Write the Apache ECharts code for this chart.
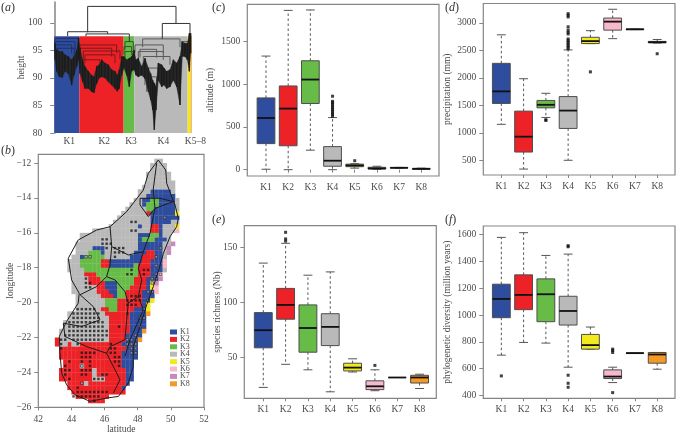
<!DOCTYPE html>
<html><head><meta charset="utf-8">
<style>html,body{margin:0;padding:0;background:#fff}#c{width:676px;height:434px}</style>
<script src="https://cdn.jsdelivr.net/npm/echarts@6/dist/echarts.min.js"></script>
</head><body><div id="c"></div>
<script>
const clusters = ['K1','K2','K3','K4','K5','K6','K7','K8'];
const clusterColors = ['#2f4d9e','#ec2227','#67bb47','#bab9ba','#f3ea1d','#f6b8cb','#c78abb','#f39a26'];
// [whisker low, q1, median, q3, whisker high]
const altitudeStats = [[5,305,605,840,1330],[0,280,715,980,1865],[228,775,1055,1275,1870],[0,40,105,270,610],[18,35,50,65,70],[3,8,15,28,40],[18,20,22,25,27],[2,5,10,15,18]];
const altitudeOutliers = [[4,625],[4,645],[4,665],[4,685],[4,705],[4,725],[4,745],[4,765],[4,785],[4,800],[4,860],[5,105]];
const precipStats = [[1155,1535,1755,2265,2785],[340,650,930,1395,1985],[1280,1455,1510,1590,1720],[500,1080,1405,1660,2510],[2625,2625,2670,2740,2860],[2715,2870,3025,3090,3250],[2880,2880,2885,2890,2890],[2635,2640,2650,2665,2700]];
const precipOutliers = [[3,1240],[3,1225],[4,2530],[4,2560],[4,2590],[4,2620],[4,2650],[4,2680],[4,2710],[4,2800],[4,2830],[4,2870],[4,2930],[4,3110],[4,3140],[4,3170],[5,2110],[8,2440]];
const richnessStats = [[23,59,75,91,136],[44,85,98,113,154],[39,55,77,98,125],[19,61,78,90,128],[37,38,41,45,49],[20,21,24,29,39],[32,32,32,32,32],[22,27,32,34,35]];
const richnessOutliers = [[2,156],[2,158],[2,164],[6,43]];
const diversityStats = [[700,980,1120,1230,1580],[795,1040,1150,1300,1615],[790,950,1155,1270,1445],[610,925,1030,1140,1455],[745,745,775,855,910],[495,525,540,590,610],[715,715,715,715,715],[595,640,705,720,720]];
const diversityOutliers = [[1,545],[4,1510],[4,1518],[4,550],[4,490],[4,460],[6,420],[6,720],[6,735],[6,745]];
// dendrogram: leaf position / height
const dendroBands = [[0,75,0],[75,208,1],[208,240,2],[240,400,3],[400,409,4],[409,412,7]];
const dendroLabels = [[45,'K1'],[150,'K2'],[230,'K3'],[327,'K4'],[423,'K5–8']];
const dendroMerges = [[100,98.3,365,99.9,103],[40,97.6,160,98,98.4],[95,97.6,225,96.6,98],[324,97.1,407,98.1,99.9]];
const dendroBranches = [[2,72,97.2,0],[2,62,96.6,0],[2,52,96,0],[10,60,95.4,0],[77,187,96,1],[77,172,95.4,1],[87,197,94.9,1],[92,182,94.2,1],[82,137,93.3,1],[212,237,96.6,2],[209,232,95.7,2],[212,237,94.8,2],[265,377,97.1,3],[242,327,96,3],[257,307,95.2,3],[252,327,94.8,3],[267,347,93.9,3],[277,317,91.8,3],[272,307,90.2,3],[277,302,89,3],[382,407,96.6,3]];
const dendroLeaves = [[2,96.3,93.3],[7,95.1,91.2],[15,94.8,90.2],[24,94.8,90.1],[32,94.2,91.2],[42,93.9,90.8],[52,93.3,88.7],[59,93.9,90.5],[67,95.1,92.1],[73,97.3,93.3],[77,95.4,90.8],[85,93.3,89.3],[92,92.1,88.1],[102,91.2,88.1],[112,90.5,87.5],[119,90.2,87.3],[127,92.1,89],[135,92.4,90],[142,93.3,90.2],[152,92.7,90],[162,92.4,89.3],[172,91.5,88.7],[182,91.2,88.1],[189,90.5,87.6],[195,91.5,88.1],[202,93.9,90.5],[209,93.9,91.8],[217,93.3,90.5],[225,93.6,88.4],[232,93.9,91.2],[239,95.1,91.5],[245,93.3,90.5],[252,93.6,90.2],[262,92.1,90.5],[272,93.6,89.9],[282,91.8,87.5],[289,90.8,86],[295,89.6,84.2],[300,89,80.6],[305,88.4,84.2],[312,92.7,89.6],[322,92.4,88.4],[329,91.8,88.7],[337,91.2,88.1],[347,91.5,88.4],[357,93.3,89.6],[367,92.7,88.4],[377,93.9,85.1],[384,96.6,93.9],[392,96.3,93.9],[399,96.3,93.3],[405,98.1,91.2],[409,98.1,94.5]];
// map raster: [row, first col, last col, cluster]; 0.25 degree cells from (42E, 11.5S)
const mapRuns = [[1,28,29,4],[2,27,30,4],[3,27,30,4],[4,26,31,4],[5,26,31,4],[6,26,32,4],[7,25,32,4],
[8,24,26,4],[8,27,31,1],[8,32,32,4],[9,24,25,4],[9,26,32,1],[10,23,24,4],[10,25,26,1],[10,27,28,3],[10,29,32,1],[10,33,33,4],
[11,22,24,4],[11,25,25,1],[11,26,28,3],[11,29,32,1],[11,33,33,4],[12,21,25,4],[12,26,27,3],[12,28,32,1],[12,33,33,4],
[13,20,25,4],[13,26,26,2],[13,27,32,1],[13,33,33,5],[14,19,26,4],[14,27,33,1],[15,18,26,4],[15,27,31,1],[15,32,33,4],
[16,17,23,4],[16,24,24,1],[16,25,26,4],[16,27,28,2],[16,29,29,1],[16,30,32,4],[16,33,33,5],
[17,13,26,4],[17,27,28,2],[17,29,29,1],[17,30,32,4],[17,33,33,6],
[18,10,23,4],[18,24,26,1],[18,27,28,3],[18,29,29,1],[18,30,31,4],[19,10,23,4],[19,24,24,1],[19,25,27,3],[19,28,30,1],[19,31,31,4],
[20,9,23,4],[20,24,29,1],[20,30,31,4],[20,32,32,7],[21,9,12,4],[21,13,15,1],[21,16,23,4],[21,24,29,1],[21,30,30,4],[21,31,31,7],
[22,9,11,4],[22,12,14,3],[22,15,15,1],[22,16,22,4],[22,23,25,1],[22,26,27,2],[22,28,29,1],[22,30,30,4],[22,31,31,7],
[23,8,9,4],[23,10,10,1],[23,11,15,3],[23,16,21,4],[23,22,24,1],[23,25,27,2],[23,28,29,1],[23,30,30,4],
[24,7,9,4],[24,10,14,3],[24,15,16,2],[24,17,24,1],[24,25,26,2],[24,27,29,1],[24,30,30,6],
[25,7,9,4],[25,10,14,3],[25,15,16,2],[25,17,22,1],[25,23,23,3],[25,24,26,2],[25,27,29,1],[25,30,30,6],
[26,7,10,4],[26,11,23,3],[26,24,26,2],[26,27,29,1],[26,30,30,4],[27,8,10,4],[27,11,13,2],[27,14,23,3],[27,24,26,2],[27,27,28,1],[27,29,29,6],
[28,8,11,4],[28,12,14,2],[28,15,22,3],[28,23,25,2],[28,26,28,1],[28,29,29,7],[29,8,11,4],[29,12,15,2],[29,16,18,1],[29,19,22,3],[29,23,25,2],[29,26,26,1],[29,27,27,5],[29,28,28,7],
[30,8,13,4],[30,14,15,2],[30,16,18,1],[30,19,21,3],[30,22,25,2],[30,26,26,1],[30,27,27,5],[30,28,28,6],
[31,8,13,4],[31,14,16,2],[31,17,18,1],[31,19,20,3],[31,21,24,2],[31,25,27,1],[31,28,28,6],
[32,9,14,4],[32,15,17,2],[32,18,18,1],[32,19,20,3],[32,21,24,2],[32,25,27,1],[33,9,15,4],[33,16,18,3],[33,19,24,2],[33,25,26,1],[33,27,27,5],
[34,9,15,4],[34,16,18,3],[34,19,24,2],[34,25,25,1],[34,26,26,5],[35,9,14,4],[35,15,16,2],[35,17,18,3],[35,19,22,2],[35,23,25,1],[35,26,26,5],
[36,7,15,4],[36,16,21,2],[36,22,25,1],[36,26,26,8],[37,7,16,4],[37,17,21,2],[37,22,25,1],[38,6,16,4],[38,17,21,2],[38,22,25,1],
[39,6,16,4],[39,17,21,2],[39,22,25,1],[40,5,16,4],[40,17,21,2],[40,22,24,1],[40,25,25,8],[41,5,16,4],[41,17,20,2],[41,21,24,1],
[42,4,4,2],[42,5,16,4],[42,17,20,2],[42,21,23,1],[42,24,24,8],[43,4,4,2],[43,5,6,4],[43,7,7,2],[43,8,9,4],[43,10,19,2],[43,20,23,1],
[44,5,20,2],[44,21,23,1],[45,5,19,2],[45,20,23,1],[46,5,19,2],[46,20,23,1],[47,6,19,2],[47,20,22,1],[48,6,9,2],[48,10,10,4],[48,11,19,2],[48,20,22,1],
[49,5,12,2],[49,13,13,4],[49,14,20,2],[49,21,22,1],[50,5,12,2],[50,13,13,4],[50,14,20,2],[50,21,22,1],[51,5,12,2],[51,13,15,4],[51,16,20,2],[51,21,22,1],
[52,7,10,2],[52,11,11,4],[52,12,20,2],[52,21,21,1],[53,7,19,2],[53,20,20,1],[54,8,20,2],[55,9,16,2],[56,12,15,2]];
// dots marking grid cells: [row, first col, last col]
const mapDots = [[15,22,23],[17,22,23],[19,15,16],[20,15,17],[21,16,16],[21,18,20],[22,18,20],[23,18,18],[28,11,11],[29,11,12],[30,11,12],[26,22,22],[27,21,22],[26,25,26],[27,25,25],[32,22,24],[33,21,24],[34,21,23],[36,21,21],[39,19,19],
[35,9,13],[36,8,14],[37,8,14],[38,7,15],[39,7,15],[40,7,16],[41,6,16],[42,5,6],[42,8,15],[43,5,5],[43,9,9],
[43,17,17],[44,5,5],[44,17,18],[45,10,13],[45,17,18],[46,10,12],[46,18,19],[47,7,7],[47,10,10],[47,12,12],[47,18,19],[48,6,6],[48,12,12],[48,19,19],[49,6,7],[49,10,12],[50,6,6],[50,10,11],[50,15,16],[51,7,7],[51,13,15],[53,9,9],[54,9,16],[55,8,14],[56,13,13]];
const mapHollowDots = [[14,30,30],[21,29,29],[23,28,28],[23,11,12],[25,28,28],[27,28,29],[28,27,28],[29,27,27],[31,26,27],[33,26,26],[35,25,25],[37,24,25],[39,24,24],[41,23,23],[42,21,23],[43,21,23],[44,21,23],[45,22,23],[48,10,10],[52,10,10]];
// borders as [longitude, latitude] paths
const coastline = [[49.24,-11.83],[49.69,-12.4],[49.75,-13.16],[50.01,-13.83],[50.25,-14.4],[50.45,-15.17],[50.35,-15.65],[49.95,-16.22],[49.55,-17.17],[49.3,-18.03],[48.94,-19.08],[48.54,-20.13],[48.14,-21.37],[47.73,-22.52],[47.73,-23.66],[47.43,-24.61],[46.83,-25.38],[46.12,-25.47],[45.12,-25.66],[44.21,-25.28],[43.71,-24.71],[43.41,-24.04],[43.31,-22.9],[43.27,-21.94],[43.71,-21.08],[44.41,-20.03],[44.47,-19.46],[44.01,-18.7],[43.81,-17.46],[44.41,-16.41],[45.52,-15.84],[46.33,-15.65],[47.33,-14.79],[48.34,-13.55],[48.64,-12.59],[49.24,-11.83]];
const borderPaths = [coastline,
[[46.33,-15.65],[46.43,-16.79],[46.33,-17.84],[46.12,-18.51],[45.52,-19.08],[44.52,-19.55]],
[[49.04,-14.6],[48.74,-16.03],[48.34,-17.08],[48.04,-18.03],[48.24,-18.7],[48.04,-19.65],[47.43,-20.03],[47.33,-20.99],[47.23,-22.13],[46.33,-22.52],[46.12,-22.9],[46.63,-23.85],[46.93,-24.42],[46.53,-25.18]],
[[48.14,-14.02],[49.34,-14.02],[50.15,-14.21],[49.04,-14.6],[48.64,-15.07],[48.14,-14.4],[48.14,-14.02]],
[[46.12,-18.51],[46.63,-18.7],[47.23,-19.37],[47.43,-20.03]],
[[44.52,-19.55],[45.32,-20.23],[45.72,-20.99],[44.62,-21.37],[43.51,-21.18],[43.61,-21.94],[44.92,-22.52],[46.12,-22.9]],
[[48.04,-19.65],[48.34,-20.42],[47.53,-22.13],[47.23,-23.09]],
[[49.14,-12.02],[48.94,-13.5],[49.04,-14.6]],
[[46.43,-16.79],[47.43,-17.27],[48.34,-17.08]]];

const FONT = '"Liberation Serif", serif', TXT = '#4a4a4a', FRAME = '#858585';
const OB = {outerBoundsMode:'none',containLabel:false};
const grids = [
 {left:49.3,top:2,width:150.7,height:131},
 {left:38.3,top:154.3,width:165.7,height:253,show:true,borderColor:FRAME,borderWidth:1.2},
 {left:247.3,top:4.3,width:191.7,height:171.7,show:true,borderColor:FRAME,borderWidth:1.2},
 {left:483.3,top:3.5,width:191.7,height:171.5,show:true,borderColor:FRAME,borderWidth:1.2},
 {left:244.3,top:225.7,width:192,height:172.6,show:true,borderColor:FRAME,borderWidth:1.2},
 {left:483.3,top:226,width:191.7,height:172.3,show:true,borderColor:FRAME,borderWidth:1.2}].map(g=>Object.assign(g,OB));
const xAxis = [], yAxis = [];
function addX(i,min,max,vals,fmt,extra){xAxis.push(Object.assign({type:'value',gridIndex:i,min,max,splitLine:{show:false},axisLine:{show:false},
  axisTick:{show:true,length:3,lineStyle:{color:FRAME},customValues:vals},
  axisLabel:{customValues:vals,formatter:fmt,fontFamily:FONT,fontSize:9.5,color:TXT,margin:6,hideOverlap:false}},extra||{}));}
function addY(i,min,max,vals,name,gap,extra){yAxis.push(Object.assign({type:'value',gridIndex:i,min,max,name,nameLocation:'middle',nameGap:gap,nameMoveOverlap:false,
  nameTextStyle:{fontFamily:FONT,fontSize:9.5,color:TXT},splitLine:{show:false},axisLine:{show:false},
  axisTick:{show:true,length:4,lineStyle:{color:FRAME},customValues:vals},
  axisLabel:{customValues:vals,formatter:v=>(v<0?'−':'')+Math.abs(v),fontFamily:FONT,fontSize:9.5,color:TXT,margin:7,hideOverlap:false}},extra||{}));}
// (a)
addX(0,-15,437,dendroLabels.map(d=>d[0]),v=>{const f=dendroLabels.find(d=>d[0]===v);return f?f[1]:'';},{axisTick:{show:false}});
xAxis[0].axisLabel.margin=3;
addY(0,80,103.8,[80,85,90,95,100],'height',23,{axisLine:{show:true,lineStyle:{color:FRAME,width:1.5}}});
// (b)
addX(1,42,52,[42,44,46,48,50,52],v=>String(v),{name:'latitude',nameLocation:'middle',nameGap:17,nameMoveOverlap:false,nameTextStyle:{fontFamily:FONT,fontSize:9.5,color:TXT}});
xAxis[1].axisLabel.margin=7;
addY(1,-26,-11.5,[-26,-24,-22,-20,-18,-16,-14,-12],'longitude',23);
// (c-f)
const kTicks=[1,2,3,4,5,6,7,8], kFmt=v=>'K'+v;
addX(2,0.157,8.8,kTicks,kFmt); addY(2,-74,1936,[0,500,1000,1500],'altitude (m)',32);
addX(3,0.19,8.8,kTicks,kFmt); addY(3,232,3355,[500,1000,1500,2000,2500,3000],'precipitation (mm)',31);
addX(4,0.15,8.75,kTicks,kFmt); addY(4,13.1,170,[50,100,150],'species richness (Nb)',22);
addX(5,0.19,8.8,kTicks,kFmt); addY(5,377.6,1665,[400,600,800,1000,1200,1400,1600],'phylogenetic diversity (million years)',31);

function boxRender(params,api){
  const x=api.value(0), lo=api.value(1), q1=api.value(2), med=api.value(3), q3=api.value(4), hi=api.value(5);
  const P=(a,b)=>api.coord([a,b]);
  const col=clusterColors[x-1], w=0.4, cw=0.2, edge='#4d4d4d';
  const seg=(a,b,st)=>({type:'line',shape:{x1:a[0],y1:a[1],x2:b[0],y2:b[1]},style:st});
  const dash={stroke:'#555',lineWidth:1,lineDash:[2.5,2.5]}, solid={stroke:'#555',lineWidth:1};
  const L=P(x-w,q3), R=P(x+w,q1);
  return {type:'group',children:[
    seg(P(x,q3),P(x,hi),dash), seg(P(x,q1),P(x,lo),dash),
    seg(P(x-cw,hi),P(x+cw,hi),solid), seg(P(x-cw,lo),P(x+cw,lo),solid),
    {type:'rect',shape:{x:L[0],y:L[1],width:R[0]-L[0],height:R[1]-L[1]},style:{fill:col,stroke:edge,lineWidth:1}},
    seg(P(x-w,med),P(x+w,med),{stroke:'#111',lineWidth:1.8})]};
}
const series=[];
function addPanel(i,stats,outliers){
  series.push({type:'custom',name:'box'+i,xAxisIndex:i,yAxisIndex:i,renderItem:boxRender,silent:true,
    encode:{x:0,y:[1,2,3,4,5]},data:stats.map((s,k)=>[k+1].concat(s))});
  series.push({type:'scatter',name:'out'+i,xAxisIndex:i,yAxisIndex:i,symbol:'rect',symbolSize:3,silent:true,
    itemStyle:{color:'#111'},data:outliers});
}
addPanel(2,altitudeStats,altitudeOutliers);
addPanel(3,precipStats,precipOutliers);
addPanel(4,richnessStats,richnessOutliers);
addPanel(5,diversityStats,diversityOutliers);

// (a) dendrogram
series.push({type:'custom',name:'bands',xAxisIndex:0,yAxisIndex:0,silent:true,encode:{x:[0,1]},data:dendroBands,
  renderItem(p,api){const a=api.coord([api.value(0),97.6]),b=api.coord([api.value(1),80]);
    return {type:'rect',shape:{x:a[0],y:a[1],width:b[0]-a[0],height:b[1]-a[1]},style:{fill:clusterColors[api.value(2)]}};}});
series.push({type:'custom',name:'branches',xAxisIndex:0,yAxisIndex:0,silent:true,encode:{x:[0,1],y:2},data:dendroBranches,
  renderItem(p,api){const x0=api.value(0),x1=api.value(1),h=api.value(2);
    const tint=['#1f2f66','#7a1a1c','#2f5a22','#5a5a5a'][api.value(3)];
    const pts=[[x0,h-1.5],[x0,h],[x1,h],[x1,h-1.5]].map(q=>api.coord(q));
    return {type:'polyline',shape:{points:pts},style:{fill:null,stroke:tint,lineWidth:1}};}});
series.push({type:'custom',name:'leaves',xAxisIndex:0,yAxisIndex:0,silent:true,encode:{x:0,y:[1,2]},data:dendroLeaves,
  renderItem(p,api){
    const d=dendroLeaves[p.dataIndex], n=dendroLeaves[p.dataIndex+1]||d;
    const a=api.coord([d[0],d[1]]), b=api.coord([d[0],d[2]]), c=api.coord([n[0],n[2]]), e=api.coord([n[0],n[1]]);
    return {type:'group',children:[
      {type:'polygon',shape:{points:[a,b,c,e]},style:{fill:'#262626',stroke:'#262626',lineWidth:0.4}},
      {type:'line',shape:{x1:a[0],y1:a[1],x2:b[0],y2:b[1]},style:{stroke:'#1a1a1a',lineWidth:1.2}}]};}});
series.push({type:'custom',name:'merges',xAxisIndex:0,yAxisIndex:0,silent:true,encode:{x:[0,2],y:[1,3,4]},data:dendroMerges,
  renderItem(p,api){const xl=api.value(0),hl=api.value(1),xr=api.value(2),hr=api.value(3),t=api.value(4);
    const pts=[[xl,hl],[xl,t],[xr,t],[xr,hr]].map(q=>api.coord(q));
    return {type:'polyline',shape:{points:pts},style:{fill:null,stroke:'#333',lineWidth:1}};}});

// (b) map
const cellLon=c=>42+0.25*c, cellLat=r=>-11.5-0.25*r;
clusters.forEach((name,k)=>{
  const cells=[];
  mapRuns.filter(m=>m[3]===k+1).forEach(m=>{for(let c=m[1];c<=m[2];c++)cells.push([cellLon(c),cellLat(m[0])]);});
  series.push({type:'custom',name,xAxisIndex:1,yAxisIndex:1,silent:true,encode:{x:0,y:1},data:cells,
    itemStyle:{color:clusterColors[k]},
    renderItem(p,api){const a=api.coord([api.value(0),api.value(1)]),b=api.coord([api.value(0)+0.25,api.value(1)-0.25]);
      return {type:'rect',shape:{x:a[0],y:a[1],width:b[0]-a[0]+0.3,height:b[1]-a[1]+0.3},style:{fill:clusterColors[k]}};}});
});
const dotData=list=>{const o=[];list.forEach(d=>{for(let c=d[1];c<=d[2];c++)o.push([cellLon(c+0.5),cellLat(d[0]+0.5)]);});return o;};
series.push({type:'scatter',name:'dots',xAxisIndex:1,yAxisIndex:1,symbol:'rect',symbolSize:2.4,silent:true,itemStyle:{color:'#1a1a1a'},data:dotData(mapDots)});
series.push({type:'scatter',name:'hollow',xAxisIndex:1,yAxisIndex:1,symbol:'rect',symbolSize:2.6,silent:true,itemStyle:{color:'rgba(190,195,215,.7)',borderColor:'#222',borderWidth:0.7},data:dotData(mapHollowDots)});
borderPaths.forEach((path,i)=>series.push({type:'line',name:'border'+i,xAxisIndex:1,yAxisIndex:1,showSymbol:false,silent:true,
  lineStyle:{color:'#1c1c1c',width:1},data:path}));

const tag=(t,left,top)=>({text:'({i|'+t+'})',left,top,padding:0,textStyle:{fontFamily:FONT,fontWeight:'normal',fontSize:12,color:'#333',
  rich:{i:{fontFamily:FONT,fontStyle:'italic',fontSize:12,color:'#333'}}}});
const option={animation:false,backgroundColor:'#fff',
  title:[tag('a',1,2),tag('b',1,145),tag('c',212,2),tag('d',445,2),tag('e',212,214),tag('f',445,214)],
  grid:grids,xAxis,yAxis,series,
  legend:{data:clusters,orient:'vertical',left:170,top:328,itemWidth:7,itemHeight:5,itemGap:-0.6,icon:'rect',selectedMode:false,padding:0,
    textStyle:{fontFamily:FONT,fontSize:8,color:TXT,padding:[0,0,0,-2]}}};
const chart=echarts.init(document.getElementById('c'),null,{renderer:'canvas'});
chart.setOption(option);
</script></body></html>
